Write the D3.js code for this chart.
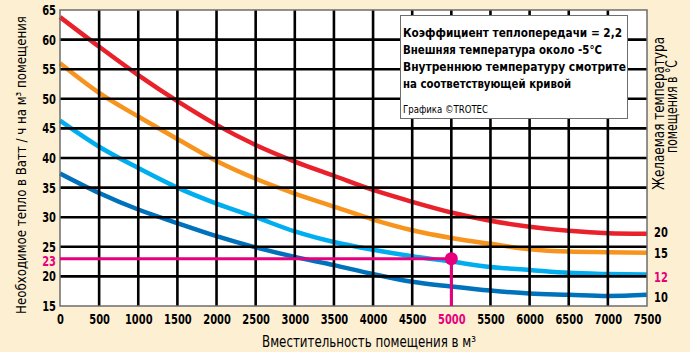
<!DOCTYPE html>
<html>
<head>
<meta charset="utf-8">
<script src="https://cdn.jsdelivr.net/npm/d3@7"></script>
<style>
  html, body { margin: 0; padding: 0; background: #FDEFD2; }
  svg { display: block; }
  text { font-family: "Liberation Sans Narrow", "DejaVu Sans Condensed", "Roboto", sans-serif; }
</style>
</head>
<body>
<svg id="chart" width="690" height="352"></svg>
<script>
// Room volume in m³ (x) and required heat in W/h per m³ (y)
const volumes = [0, 500, 1000, 1500, 2000, 2500, 3000, 3500, 4000, 4500, 5000, 5500, 6000, 6500, 7000, 7500];
const heat20 = [63.8, 58.8, 54.0, 49.6, 45.6, 42.2, 39.4, 37.0, 34.6, 32.6, 30.8, 29.4, 28.4, 27.7, 27.3, 27.2];
const heat15 = [56.0, 51.0, 47.0, 43.2, 39.5, 36.5, 34.0, 31.8, 29.6, 27.8, 26.5, 25.5, 24.6, 24.2, 24.1, 24.0];
const heat12 = [46.3, 41.9, 38.3, 35.0, 32.3, 30.0, 27.6, 25.8, 24.5, 23.4, 22.5, 21.6, 21.1, 20.6, 20.4, 20.3];
const heat10 = [37.4, 34.1, 31.3, 29.0, 26.8, 24.9, 23.3, 21.9, 20.4, 19.1, 18.3, 17.6, 17.1, 16.9, 16.7, 16.9];
const tempLabels = ["20", "15", "12", "10"];
const seriesColors = ["#E8212B", "#F7941E", "#00AEEF", "#0071BB"];
const xTicks = d3.range(0, 7501, 500);
const yTicks = d3.range(15, 66, 5);
const markVolume = 5000;
const markHeat = 23;
const infoLines = [
  "Коэффициент теплопередачи = 2,2",
  "Внешняя температура около -5°С",
  "Внутреннюю температуру смотрите",
  "на соответствующей кривой"
];
const infoCredit = "Графика ©TROTEC";

const series = [heat20, heat15, heat12, heat10].map((vals, i) => ({
  label: tempLabels[i],
  color: seriesColors[i],
  points: vals.map((v, j) => [volumes[j], v])
}));

const svg = d3.select("#chart");
const pink = "#E6007E";
const plotL = 60, plotR = 647, plotT = 10, plotB = 306;
const digitW = 6.9;   // width of one digit in the condensed tick font

const x = d3.scaleLinear().domain([0, 7500]).range([plotL, plotR]);
const y = d3.scaleLinear().domain([15, 65]).range([plotB, plotT]);

// fit a text element to a given width (condensed look)
function fit(sel, w) {
  sel.attr("textLength", w).attr("lengthAdjust", "spacingAndGlyphs");
}

// plot area
svg.append("rect")
  .attr("x", plotL).attr("y", plotT)
  .attr("width", plotR - plotL).attr("height", plotB - plotT)
  .attr("fill", "#fff");

// curves
const line = d3.line().x(d => x(d[0])).y(d => y(d[1])).curve(d3.curveMonotoneX);
svg.append("g").selectAll("path").data(series).join("path")
  .attr("d", d => line(d.points))
  .attr("fill", "none")
  .attr("stroke", d => d.color)
  .attr("stroke-width", 4.5);

// grid, drawn over the curves
const grid = svg.append("g").attr("stroke", "#000").attr("stroke-width", 2.6);
grid.selectAll("line.v").data(xTicks.filter(t => t > 0 && t < 7500)).join("line")
  .attr("class", "v")
  .attr("x1", d => x(d)).attr("x2", d => x(d))
  .attr("y1", plotT).attr("y2", plotB);
grid.selectAll("line.h").data(yTicks.filter(t => t > 15 && t < 65)).join("line")
  .attr("class", "h")
  .attr("x1", plotL).attr("x2", plotR)
  .attr("y1", d => y(d)).attr("y2", d => y(d));

// frame
svg.append("rect")
  .attr("x", plotL).attr("y", plotT)
  .attr("width", plotR - plotL).attr("height", plotB - plotT)
  .attr("fill", "none").attr("stroke", "#6d6d6d").attr("stroke-width", 1.5);

// reading guide: 5000 m³ at 12 °C
svg.append("line")
  .attr("x1", plotL).attr("x2", x(markVolume))
  .attr("y1", y(markHeat)).attr("y2", y(markHeat))
  .attr("stroke", pink).attr("stroke-width", 3);
svg.append("line")
  .attr("x1", x(markVolume)).attr("x2", x(markVolume))
  .attr("y1", y(markHeat)).attr("y2", plotB)
  .attr("stroke", pink).attr("stroke-width", 3);
svg.append("circle")
  .attr("cx", x(markVolume)).attr("cy", y(markHeat)).attr("r", 6.5)
  .attr("fill", pink);

// axes
const xAxis = svg.append("g").attr("transform", `translate(0,${plotB})`)
  .call(d3.axisBottom(x).tickValues(xTicks).tickSize(0).tickPadding(8).tickFormat(d3.format("d")));
xAxis.select(".domain").remove();
xAxis.selectAll("text")
  .attr("font-size", 14).attr("font-weight", "bold")
  .attr("fill", d => d === markVolume ? pink : "#000")
  .attr("textLength", d => String(d).length * digitW)
  .attr("lengthAdjust", "spacingAndGlyphs");

const yAxis = svg.append("g").attr("transform", `translate(${plotL},0)`)
  .call(d3.axisLeft(y).tickValues(yTicks).tickSize(0).tickPadding(4).tickFormat(d3.format("d")));
yAxis.select(".domain").remove();
yAxis.selectAll("text")
  .attr("font-size", 14).attr("font-weight", "bold")
  .attr("fill", "#000")
  .attr("textLength", d => String(d).length * digitW)
  .attr("lengthAdjust", "spacingAndGlyphs");
svg.selectAll("g[font-family]").attr("font-family", null).attr("font-size", null);

// value label of the guide line
svg.append("text")
  .attr("x", plotL - 4).attr("y", y(markHeat)).attr("dy", "0.55em")
  .attr("text-anchor", "end")
  .attr("font-size", 14).attr("font-weight", "bold")
  .attr("fill", pink).text(String(markHeat))
  .call(fit, String(markHeat).length * digitW);

// curve temperature labels on the right
svg.append("g").selectAll("text").data(series).join("text")
  .attr("x", plotR + 7)
  .attr("y", (d, i) => [232, 253, 277, 297][i])
  .attr("dy", "0.35em")
  .attr("font-size", 14).attr("font-weight", "bold")
  .attr("fill", d => d.label === "12" ? pink : "#000")
  .text(d => d.label)
  .each(function(d) { d3.select(this).call(fit, d.label.length * digitW); });

// axis titles
const yTitle = svg.append("text")
  .attr("text-anchor", "middle")
  .attr("font-size", 14.5)
  .text("Необходимое тепло в Ватт / ч на м³ помещения");
const yTitleLen = yTitle.node().getComputedTextLength();
yTitle.attr("transform", `translate(26,165) rotate(-90) scale(${298 / yTitleLen},1)`);

svg.append("text")
  .attr("x", 369).attr("y", 347)
  .attr("text-anchor", "middle")
  .attr("font-size", 15)
  .text("Вместительность помещения в м³")
  .call(fit, 214);

svg.append("text")
  .attr("transform", "translate(664,113.5) rotate(-90)")
  .attr("text-anchor", "middle").attr("font-size", 15)
  .text("Желаемая температура")
  .call(fit, 153);
svg.append("text")
  .attr("transform", "translate(677,106.5) rotate(-90)")
  .attr("text-anchor", "middle").attr("font-size", 15)
  .text("помещения в °С")
  .call(fit, 93);

// information box
svg.append("rect")
  .attr("x", 400.5).attr("y", 15.5).attr("width", 227).attr("height", 103)
  .attr("fill", "#fff").attr("stroke", "#6d6d6d").attr("stroke-width", 1);
const infoWidths = [219, 199, 223, 168];
svg.append("g").selectAll("text").data(infoLines).join("text")
  .attr("x", 403).attr("y", (d, i) => 36.5 + i * 17)
  .attr("font-size", 13).attr("font-weight", "bold")
  .text(d => d)
  .each(function(d, i) { d3.select(this).call(fit, infoWidths[i]); });
svg.append("text")
  .attr("x", 403).attr("y", 113)
  .attr("font-size", 10.5)
  .text(infoCredit)
  .call(fit, 85);
</script>
</body>
</html>
